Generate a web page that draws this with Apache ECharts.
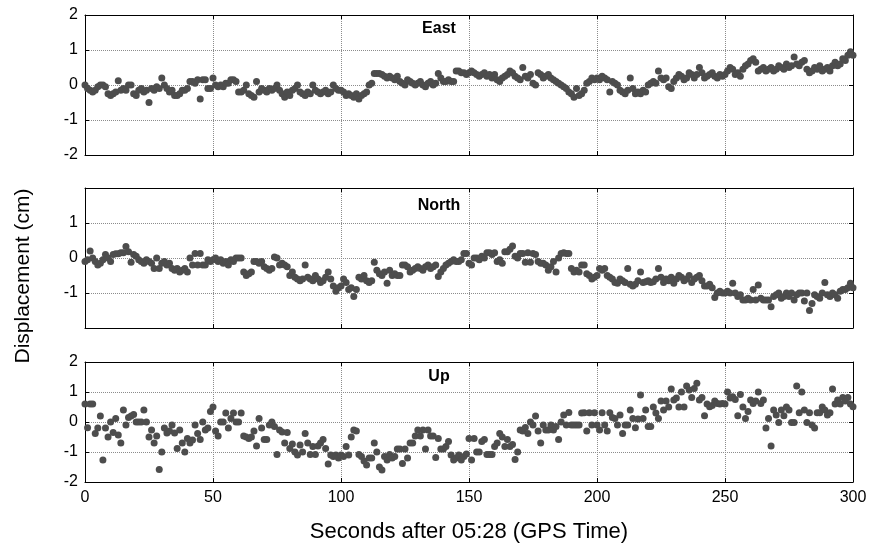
<!DOCTYPE html>
<html>
<head>
<meta charset="utf-8">
<script src="https://cdn.jsdelivr.net/npm/echarts@6/dist/echarts.min.js"></script>
<style>
html,body{margin:0;padding:0;background:#fff;}
#chart{width:872px;height:547px;}
</style>
</head>
<body>
<div id="chart"></div>
<script>
// Sample times (seconds after 05:28), one sample per second
const seconds = Array.from({length: 301}, (_, i) => i);

const panelTitles = ['East', 'North', 'Up'];
const xTicks = [0, 50, 100, 150, 200, 250, 300];
const yTicksTop = [-2, -1, 0, 1, 2];
const yTicksMid = [-1, 0, 1];
const yTicksBot = [-2, -1, 0, 1, 2];
const xTitle = 'Seconds after 05:28 (GPS Time)';
const yTitle = 'Displacement (cm)';

const east = [
 0.00,-0.10,-0.15,-0.20,-0.15,-0.05,0.00,0.00,-0.05,-0.25,
 -0.30,-0.25,-0.20,0.12,-0.15,-0.10,-0.15,0.00,0.00,-0.25,
 -0.30,-0.15,-0.10,-0.20,-0.15,-0.50,-0.10,-0.15,-0.05,-0.10,
 0.20,0.00,-0.10,-0.20,-0.15,-0.30,-0.30,-0.25,-0.15,-0.15,
 -0.10,0.10,0.10,0.05,0.15,-0.40,0.15,0.15,-0.10,-0.10,
 0.20,0.00,-0.05,0.00,-0.05,0.05,0.05,0.15,0.15,0.10,
 -0.20,-0.20,-0.15,0.00,-0.25,-0.30,-0.35,0.10,-0.20,-0.10,
 -0.15,-0.20,-0.10,-0.15,-0.10,0.00,-0.15,-0.25,-0.35,-0.20,
 -0.30,-0.15,-0.10,0.00,-0.20,-0.25,-0.30,-0.20,-0.25,0.00,
 -0.15,-0.20,-0.25,-0.20,-0.15,-0.25,-0.20,0.00,-0.10,-0.15,
 -0.15,-0.20,-0.30,-0.25,-0.30,-0.35,-0.25,-0.40,-0.30,-0.25,
 -0.20,0.00,0.05,0.33,0.33,0.33,0.30,0.25,0.20,0.25,
 0.20,0.15,0.25,0.10,0.05,0.00,0.15,0.10,0.05,0.00,
 0.05,0.10,0.00,-0.05,0.05,0.10,0.00,0.05,0.33,0.20,
 0.10,0.10,0.15,0.10,0.10,0.40,0.40,0.35,0.35,0.30,
 0.35,0.40,0.35,0.30,0.25,0.30,0.35,0.25,0.30,0.20,
 0.30,0.15,0.10,0.20,0.25,0.30,0.40,0.35,0.25,0.20,
 0.15,0.50,0.25,0.20,0.30,0.05,0.00,0.35,0.30,0.20,
 0.25,0.30,0.20,0.15,0.10,0.05,0.00,-0.05,-0.10,-0.20,
 -0.25,-0.35,-0.10,-0.30,-0.25,-0.15,0.05,0.10,0.20,0.15,
 0.20,0.15,0.25,0.20,0.15,-0.20,0.10,0.05,0.00,-0.15,
 -0.20,-0.25,-0.15,0.20,-0.10,-0.25,-0.20,-0.25,-0.15,-0.20,
 0.00,0.05,0.10,0.05,0.40,0.20,0.15,0.20,-0.05,-0.10,
 0.10,0.20,0.30,0.25,0.15,0.20,0.35,0.30,0.20,0.30,
 0.50,0.35,0.20,0.25,0.30,0.35,0.25,0.20,0.30,0.25,
 0.30,0.40,0.50,0.45,0.30,0.35,0.25,0.45,0.55,0.60,
 0.70,0.75,0.65,0.40,0.45,0.50,0.40,0.45,0.50,0.40,
 0.45,0.55,0.50,0.45,0.60,0.50,0.55,0.80,0.60,0.55,
 0.65,0.70,0.45,0.35,0.40,0.50,0.45,0.55,0.40,0.45,
 0.50,0.40,0.55,0.65,0.55,0.60,0.75,0.70,0.85,0.95,
 0.85
];

const north = [
 -0.10,-0.05,0.20,0.00,-0.10,-0.20,-0.15,-0.05,0.10,0.00,
 -0.10,0.10,0.12,0.12,0.15,0.15,0.33,0.18,-0.12,0.10,
 0.05,-0.05,-0.10,-0.15,-0.05,-0.10,-0.15,-0.30,0.00,-0.30,
 -0.15,-0.10,-0.20,-0.15,-0.30,-0.35,-0.30,-0.40,-0.35,-0.30,
 -0.40,0.00,-0.20,0.13,-0.20,0.13,-0.20,-0.20,-0.05,-0.10,
 -0.05,0.00,-0.10,-0.05,-0.15,-0.10,-0.20,-0.05,-0.10,0.00,
 0.00,0.00,-0.40,-0.50,-0.45,-0.40,-0.10,-0.10,-0.15,-0.10,
 -0.25,-0.30,-0.35,-0.30,0.03,0.00,-0.20,-0.15,-0.20,-0.25,
 -0.50,-0.40,-0.55,-0.60,-0.65,-0.60,-0.20,-0.55,-0.60,-0.65,
 -0.50,-0.60,-0.70,-0.65,-0.55,-0.40,-0.60,-0.80,-0.95,-0.85,
 -0.80,-0.60,-0.70,-0.90,-0.85,-1.10,-0.90,-0.55,-0.60,-0.50,
 -0.65,-0.70,-0.65,-0.12,-0.35,-0.45,-0.50,-0.40,-0.72,-0.35,
 -0.50,-0.45,-0.50,-0.50,-0.20,-0.20,-0.25,-0.40,-0.35,-0.30,
 -0.25,-0.30,-0.35,-0.25,-0.20,-0.30,-0.25,-0.20,-0.53,-0.40,
 -0.30,-0.20,-0.15,-0.10,-0.05,-0.10,-0.10,-0.05,0.13,0.13,
 -0.15,-0.20,0.00,0.00,-0.05,0.05,0.00,0.15,0.15,0.10,
 0.15,-0.10,-0.05,-0.15,0.18,0.18,0.25,0.34,0.05,0.00,
 0.13,0.13,-0.12,0.15,-0.12,0.13,0.10,-0.10,-0.15,-0.15,
 -0.20,-0.35,-0.25,-0.10,-0.40,0.00,0.13,0.15,0.13,0.13,
 -0.30,-0.40,-0.35,-0.40,-0.20,-0.20,-0.45,-0.50,-0.60,-0.55,
 -0.50,-0.30,-0.35,-0.30,-0.50,-0.55,-0.60,-0.70,-0.72,-0.60,
 -0.65,-0.70,-0.30,-0.75,-0.80,-0.75,-0.65,-0.40,-0.70,-0.68,
 -0.65,-0.70,-0.68,-0.60,-0.30,-0.55,-0.70,-0.60,-0.65,-0.55,
 -0.72,-0.60,-0.50,-0.55,-0.65,-0.60,-0.50,-0.70,-0.60,-0.55,
 -0.50,-0.65,-0.80,-0.80,-0.75,-0.85,-1.13,-1.00,-0.95,-1.00,
 -1.00,-0.95,-1.00,-0.72,-1.00,-1.10,-1.05,-1.20,-1.20,-1.15,
 -1.20,-0.90,-1.20,-0.77,-1.15,-1.20,-1.20,-1.20,-1.39,-1.10,
 -1.05,-1.00,-1.15,-1.10,-1.00,-1.10,-1.00,-1.20,-1.05,-1.00,
 -1.00,-1.23,-1.00,-1.50,-1.30,-1.05,-1.10,-1.15,-1.00,-0.70,
 -1.05,-1.10,-1.00,-1.05,-1.15,-0.95,-0.90,-0.90,-0.85,-0.72,
 -0.85
];

const up = [
 0.60,-0.19,0.60,0.60,-0.38,-0.20,0.20,-1.27,-0.20,-0.50,
 0.00,-0.35,0.12,-0.43,-0.70,0.40,-0.10,0.15,0.20,0.25,
 0.00,0.00,0.00,0.40,0.00,-0.50,-0.27,-0.70,-0.47,-1.58,
 -1.00,-0.20,-0.37,-0.30,-0.10,-0.37,-0.88,-0.27,-0.70,-1.00,
 -0.55,-0.70,-0.60,-0.10,-0.38,-0.58,0.00,-0.27,-0.20,0.35,
 0.50,-0.30,-0.47,0.00,0.00,0.30,-0.20,0.12,0.30,0.00,
 0.00,0.30,-0.47,-0.50,-0.55,-0.50,-0.30,-0.80,0.12,-0.20,
 -0.58,-0.58,-0.10,0.00,-0.15,-1.08,-0.27,-0.33,-0.70,-0.35,
 -0.88,-0.73,-1.00,-1.10,-0.77,-1.00,-0.38,-0.70,-1.08,-0.82,
 -1.08,-0.80,-0.70,-0.58,-0.88,-1.40,-1.10,-1.15,-1.10,-1.20,
 -1.10,-1.15,-0.82,-1.10,-0.50,-0.27,-0.30,-1.08,-1.15,-1.30,
 -1.43,-1.20,-1.20,-0.70,-1.00,-1.50,-1.60,-1.15,-1.27,-1.08,
 -1.20,-1.15,-0.90,-0.90,-1.38,-0.90,-1.20,-0.70,-0.70,-0.47,
 -0.27,-0.47,-0.27,-0.90,-0.27,-0.47,-0.47,-1.18,-0.55,-0.90,
 -0.90,-0.82,-0.65,-1.10,-1.27,-1.20,-1.10,-1.27,-1.15,-1.07,
 -0.55,-1.27,-0.55,-1.00,-1.00,-0.65,-0.58,-1.08,-1.08,-1.08,
 -0.82,-0.70,-0.38,-0.50,-0.82,-0.58,-0.82,-0.75,-1.25,-1.00,
 -0.27,-0.30,-0.18,-0.38,0.00,-0.10,0.20,-0.30,-0.70,-0.10,
 -0.27,-0.27,-0.10,-0.27,-0.15,-0.58,0.00,0.23,-0.10,0.32,
 -0.10,-0.10,-0.10,-0.10,0.30,0.31,-0.30,0.31,-0.10,0.31,
 -0.10,-0.27,0.31,-0.10,-0.30,0.31,0.15,0.12,-0.10,0.23,
 -0.38,-0.10,-0.10,0.40,0.12,-0.19,0.10,0.90,0.12,0.40,
 -0.15,-0.15,0.50,0.30,0.12,0.70,0.40,0.70,0.50,1.10,
 0.73,0.80,0.50,1.00,0.50,1.20,1.07,0.82,1.12,1.29,
 0.73,0.82,0.21,0.60,0.51,0.55,0.70,0.62,0.60,0.62,
 0.60,1.00,0.80,0.84,0.75,0.21,0.92,0.50,0.12,0.35,
 0.73,0.62,0.70,1.00,0.62,0.73,-0.20,0.12,-0.80,0.40,
 0.23,-0.02,0.40,0.21,0.50,0.40,-0.02,-0.02,1.20,0.31,
 1.00,0.40,-0.02,0.31,-0.10,-0.20,0.31,0.31,0.50,0.40,
 0.23,0.31,1.10,0.60,0.73,0.60,0.82,0.70,0.82,0.60,
 0.51
];

const seriesValues = [east, north, up];
const yTickSets = [yTicksTop, yTicksMid, yTicksBot];

const FONT = '"Liberation Sans", Arial, Helvetica, sans-serif';
const grids = [
  {left: 85, top: 15, width: 768, height: 140},
  {left: 85, top: 188, width: 768, height: 140},
  {left: 85, top: 362, width: 768, height: 120}
];
const titlePos = [29, 206, 377];

const xAxes = [], yAxes = [], series = [];
grids.forEach((g, i) => {
  const isBottom = i === 2;
  const baseX = {
    type: 'value', gridIndex: i, min: xTicks[0], max: xTicks[xTicks.length - 1], interval: 50,
    axisLine: {show: true, onZero: false, lineStyle: {color: '#000', width: 1}},
    axisTick: {show: true, inside: true, length: 4, lineStyle: {color: '#000'}}
  };
  xAxes.push(Object.assign({}, baseX, {
    position: 'bottom',
    axisLabel: {show: isBottom, color: '#000', fontSize: 16, fontFamily: FONT, margin: 8},
    splitLine: {show: true, lineStyle: {color: '#8c8c8c', type: 'dotted', width: 1}}
  }));
  xAxes.push(Object.assign({}, baseX, {
    position: 'top', axisLabel: {show: false}, splitLine: {show: false}
  }));
  const ticks = yTickSets[i];
  const baseY = {
    type: 'value', gridIndex: i, min: -2, max: 2, interval: 1,
    axisLine: {show: true, onZero: false, lineStyle: {color: '#000', width: 1}},
    axisTick: {show: true, inside: true, length: 4, lineStyle: {color: '#000'}}
  };
  yAxes.push(Object.assign({}, baseY, {
    position: 'left',
    axisLabel: {
      show: true, color: '#000', fontSize: 16, fontFamily: FONT, margin: 7,
      formatter: v => ticks.indexOf(v) >= 0 ? String(v) : ''
    },
    splitLine: {show: true, lineStyle: {color: '#8c8c8c', type: 'dotted', width: 1}}
  }));
  yAxes.push(Object.assign({}, baseY, {
    position: 'right', axisLabel: {show: false}, splitLine: {show: false}
  }));
  series.push({
    type: 'scatter', xAxisIndex: i * 2, yAxisIndex: i * 2,
    symbol: 'circle', symbolSize: 7,
    itemStyle: {color: '#4d4d4d', opacity: 1},
    silent: true, animation: false,
    data: seconds.map((s, k) => [s, seriesValues[i][k]])
  });
});

const graphics = panelTitles.map((t, i) => ({
  type: 'text', x: 439, y: titlePos[i],
  style: {text: t, fontFamily: FONT, fontSize: 16, fontWeight: 'bold', fill: '#000', align: 'center', verticalAlign: 'middle'}
}));
graphics.push({
  type: 'text', x: 469, y: 532,
  style: {text: xTitle, fontFamily: FONT, fontSize: 22, fill: '#000', align: 'center', verticalAlign: 'middle'}
});
graphics.push({
  type: 'text', x: 23, y: 276, rotation: Math.PI / 2,
  style: {text: yTitle, fontFamily: FONT, fontSize: 21, fill: '#000', align: 'center', verticalAlign: 'middle'}
});

const chart = echarts.init(document.getElementById('chart'), null, {renderer: 'canvas'});
chart.setOption({
  backgroundColor: '#fff',
  animation: false,
  grid: grids,
  xAxis: xAxes,
  yAxis: yAxes,
  series: series,
  graphic: graphics
});
</script>
</body>
</html>
